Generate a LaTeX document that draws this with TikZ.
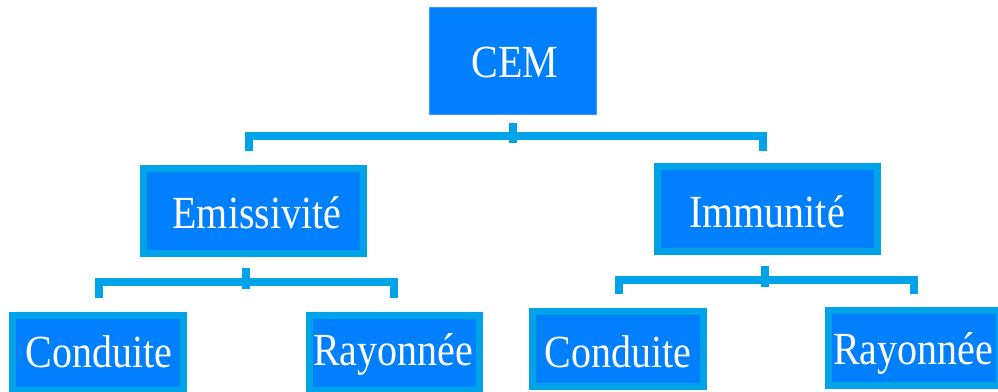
\documentclass[tikz,border=0pt]{standalone}
\usepackage{fontspec}
\setmainfont{Liberation Serif}
\usetikzlibrary{calc}
\definecolor{boxfill}{RGB}{0,128,255}
\definecolor{boxedge}{RGB}{0,162,232}
\definecolor{cemedge}{RGB}{60,150,255}
\tikzset{
  lvlbox/.style={draw=boxedge, line width=7pt, fill=boxfill, inner sep=0pt,
    minimum width=#1, minimum height=85pt},
  leafbox/.style={draw=boxedge, line width=7pt, fill=boxfill, inner sep=0pt,
    minimum width=171pt, minimum height=75pt},
  topbox/.style={draw=cemedge, line width=0.8pt, fill=boxfill, inner sep=0pt,
    minimum width=167pt, minimum height=107pt},
  lbl/.style={anchor=base, inner sep=0pt, text=white,
    font=\fontsize{40}{40}\selectfont},
  conn/.style={draw=boxedge, line width=8pt, line cap=butt, line join=miter}
}
\newcommand{\stretchtxt}[1]{\scalebox{1}[1.15]{#1}}
\begin{document}
\begin{tikzpicture}[x=1pt,y=-1pt]
\useasboundingbox (0,0) rectangle (998,391);
\clip (0,0) rectangle (998,391);
% boxes
\node[topbox] (cem) at (512.5,60.5) {};
\node[lvlbox=220pt] (emi) at (253.5,211) {};
\node[lvlbox=220pt] (imm) at (767.5,209) {};
\node[leafbox] (c1) at (98,353) {};
\node[leafbox, minimum width=170pt] (r1) at (394.5,353) {};
\node[leafbox] (c2) at (618,349) {};
\node[leafbox] (r2) at (914,348) {};
% labels
\node[lbl] (tcem) at (515,77) {\stretchtxt{CEM}};
\node[lbl] (temi) at (257,228) {\stretchtxt{Emissivité}};
\node[lbl] (timm) at (767,227) {\stretchtxt{Immunité}};
\node[lbl] (tc1) at (99,367) {\stretchtxt{Conduite}};
\node[lbl] (tr1) at (393,365) {\stretchtxt{Rayonnée}};
\node[lbl] (tc2) at (618,367) {\stretchtxt{Conduite}};
\node[lbl] (tr2) at (913,364) {\stretchtxt{Rayonnée}};
% connectors: top level
\draw[conn] ([yshift=-9pt]cem.south) -- ([yshift=-29pt]cem.south);
\draw[conn] ($(emi.north)+(-5,-14.5)$) -- ($(emi.north)+(-5,-29)$)
  -- ($(imm.north)+(-5,-27)$) -- ($(imm.north)+(-5,-12.5)$);
% connectors: Emissivite
\draw[conn] ($(emi.south)+(-7.8,11)$) -- ($(emi.south)+(-7.8,31.5)$);
\draw[conn] ($(c1.north)+(0.5,-14.5)$) -- ($(c1.north)+(0.5,-30.5)$)
  -- ($(r1.north)+(-0.5,-30.5)$) -- ($(r1.north)+(-0.5,-14.5)$);
% connectors: Immunite
\draw[conn] ($(imm.south)+(-2.2,11)$) -- ($(imm.south)+(-2.2,32)$);
\draw[conn] ($(c2.north)+(0.5,-14.5)$) -- ($(c2.north)+(0.5,-28)$)
  -- ($(r2.north)+(0,-27)$) -- ($(r2.north)+(0,-13.5)$);
\end{tikzpicture}
\end{document}
